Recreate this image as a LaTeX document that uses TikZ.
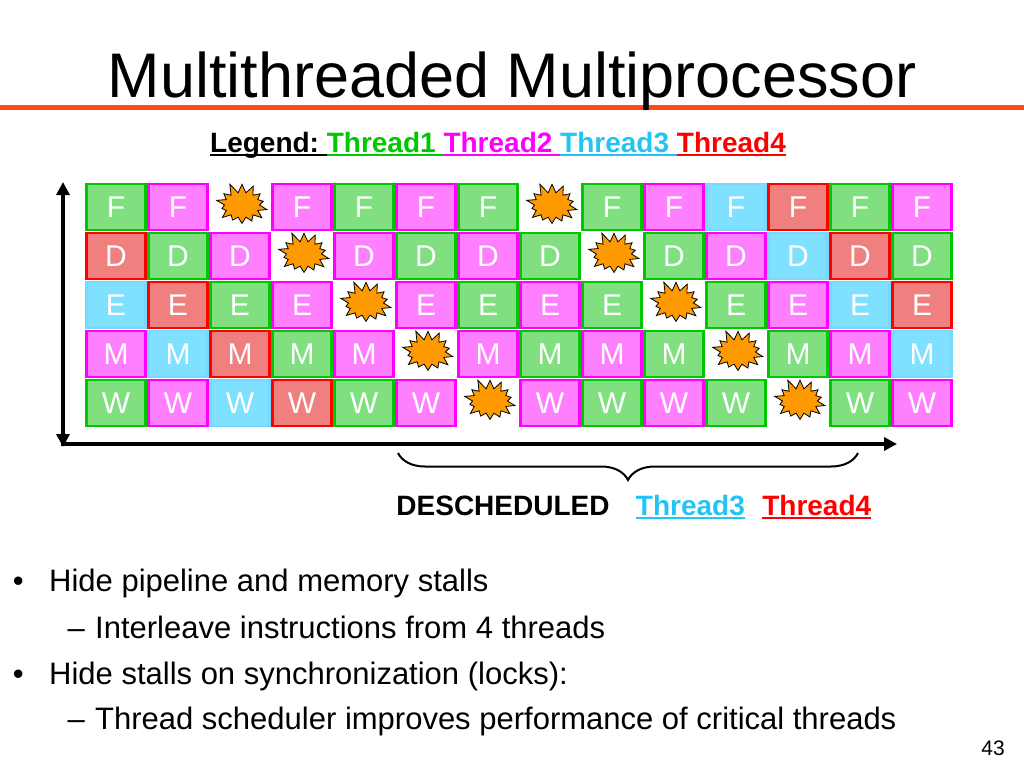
\documentclass[tikz,border=0pt]{standalone}
\usepackage{fontspec}
\setmainfont{Liberation Sans}
\usetikzlibrary{shapes.symbols,arrows.meta,positioning,decorations.pathreplacing}
\definecolor{tfill1}{HTML}{80E080}
\definecolor{tline1}{HTML}{00C800}
\definecolor{tfill2}{HTML}{FF80FF}
\definecolor{tline2}{HTML}{FF00FF}
\definecolor{tfill3}{HTML}{80E0FF}
\definecolor{tline3}{HTML}{78D8FF}
\definecolor{tfill4}{HTML}{F08080}
\definecolor{tline4}{HTML}{FF0000}
\definecolor{ttext3}{HTML}{22C4F4}
\definecolor{stallorange}{HTML}{FF9900}
\definecolor{titlerule}{HTML}{FF4A14}
\newcommand\legline[1]{\setbox0=\hbox{#1}\rlap{\raisebox{-4pt}{\rule{\wd0}{2.5pt}}}\box0}

\begin{document}
\begin{tikzpicture}[x=1pt, y=-1pt, >={Triangle[length=13pt,width=13pt]},
                    cell/.style={draw=tline#1, fill=tfill#1, line width=2.5pt, minimum width=59pt, minimum height=46pt, inner sep=0pt, text=white, font=\fontsize{30}{30}\selectfont},
                    stall/.style={starburst, starburst points=14, starburst point height=11pt, random starburst=11, fill=stallorange, draw=black, line width=0.8pt, minimum width=57pt, minimum height=47pt, inner sep=0pt},
                    axis/.style={line width=4pt},
                    lab/.style={inner sep=0pt, font=\fontsize{28}{28}\bfseries\selectfont},
                    bullet/.style={anchor=base west, inner sep=0pt, font=\fontsize{31}{31}\selectfont}]
                    \useasboundingbox (0,0) rectangle (1024,768);
                    \draw[line width=5pt, titlerule] (0,107) -- (1024,107);
                    \node[anchor=base, inner sep=0pt, font=\fontsize{63}{63}\selectfont] (title) at (512,97) {Multithreaded Multiprocessor};
                    \node[lab, anchor=base] (legend) at (498,152) {\legline{Legend:\ }\textcolor{tline1}{\legline{Thread1\ }}\textcolor{tline2}{\legline{Thread2\ }}\textcolor{ttext3}{\legline{Thread3\ }}\textcolor{tline4}{\legline{Thread4}}};
                    \foreach \st/\row [count=\r] in {F/{1,2,0,2,1,2,1,0,1,2,3,4,1,2}, D/{4,1,2,0,2,1,2,1,0,1,2,3,4,1}, E/{3,4,1,2,0,2,1,2,1,0,1,2,3,4}, M/{2,3,4,1,2,0,2,1,2,1,0,1,2,3}, W/{1,2,3,4,1,2,0,2,1,2,1,0,1,2}}
                        \foreach \c [count=\k] in \row {
                            \ifnum\c=0
                                \node[stall] (\st\k) at ({56+62*\k},{156+49*\r}) {};
                            \else
                                \node[cell=\c] (\st\k) at ({54+62*\k},{158+49*\r}) {\st};
                            \fi
                        }
                    \coordinate (ytop) at (63,182);
                    \coordinate (ybot) at (63,447);
                    \coordinate (xstart) at (61,444);
                    \coordinate (xend) at (897,444);
                    \draw[axis, <->] (ytop) -- (ybot);
                    \draw[axis, ->] (xstart) -- (xend);
                    \coordinate (bl) at (398,453);
                    \coordinate (br) at (858,453);
                    \draw[line width=2pt, decorate, decoration={brace, mirror, amplitude=27pt}] (bl) -- (br);
                    \node[lab, anchor=base] (desch) at (503,515) {DESCHEDULED};
                    \node[lab, text=ttext3, base right=26pt of desch] (dthree) {\legline{Thread3}};
                    \node[lab, text=tline4, base right=17pt of dthree] (dfour) {\legline{Thread4}};
                    \node[bullet] (b1) at (49,591) {Hide pipeline and memory stalls};
                    \node[bullet] (b2) at (95,638) {Interleave instructions from 4 threads};
                    \node[bullet] (b3) at (49,684) {Hide stalls on synchronization (locks):};
                    \node[bullet] (b4) at (95,729) {Thread scheduler improves performance of critical threads};
                    \node[bullet, base left=25pt of b1] (m1) {•};
                    \node[bullet, base left=10pt of b2] (m2) {–};
                    \node[bullet, base left=25pt of b3] (m3) {•};
                    \node[bullet, base left=10pt of b4] (m4) {–};
                    \node[anchor=base east, inner sep=0pt, font=\fontsize{21}{21}\selectfont] (pagenum) at (1005,755) {43};
                \end{tikzpicture}
\end{document}
